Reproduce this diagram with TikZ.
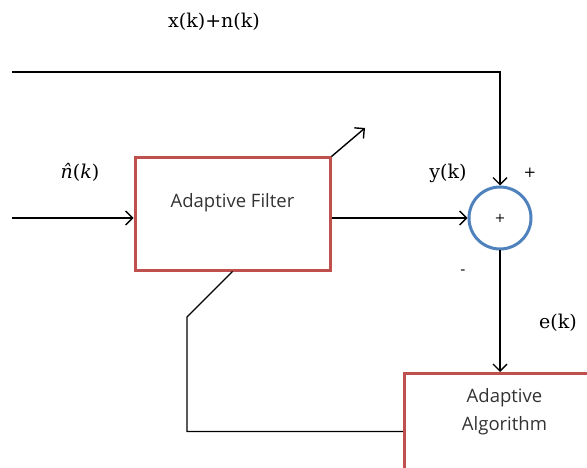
\documentclass[tikz,border=0pt]{standalone}
\usepackage{fontspec}
\setmainfont{DejaVu Serif}
\newfontfamily\boxfont{Open Sans}
\usetikzlibrary{positioning, arrows.meta}
\definecolor{boxred}{HTML}{C0504D}
\definecolor{sumblue}{HTML}{4F81BD}

\begin{document}
\begin{tikzpicture}[x=1pt, y=-1pt,
  block/.style={draw=boxred, line width=3pt, minimum width=195pt, minimum height=112pt},
  sumnode/.style={circle, draw=sumblue, line width=3pt, minimum size=62pt, inner sep=0pt},
  wire/.style={line width=1.4pt},
  arr/.style={wire, -{Straight Barb[length=7pt, width=14pt]}},
  sig/.style={font=\fontsize{19}{22}\selectfont},
  boxtxt/.style={font=\boxfont\fontsize{18.5}{28}\selectfont, text=black!80}]
  \useasboundingbox (0,0) rectangle (587,468);
  \clip (0,0) rectangle (587,468);

  % blocks
  \node[block, boxtxt, text depth=28pt] (filter) at (232.5,214) {Adaptive Filter};
  \node[sumnode, font=\fontsize{13}{14}\selectfont] (sum) at (500,218) {+};
  \node[block, anchor=north west, minimum width=200pt, minimum height=116pt] (algo) at (403,372) {};
  \node[boxtxt, align=center, below=13pt of algo.north] (algotxt) {Adaptive\\Algorithm};

  \coordinate (in) at (12,218);
  \coordinate (top) at (12,72);
  \coordinate (tune) at (365,128);
  \coordinate (bend) at (187,317);

  % signal paths
  \draw[arr] (in) -- (in -| filter.west);
  \draw[arr] (top) -- (sum.north |- top) -- (sum.north);
  \draw[arr] (filter.east |- sum) -- (sum.west);
  \draw[arr] (filter.north east) -- (tune);
  \draw[arr] (sum.south) -- (sum |- algo.north);
  \draw[wire] (filter.south) -- (bend) -- (bend |- algo.west) -- (algo.west);

  % labels
  \node[sig] (xn) at (214,22) {x(k)+n(k)};
  \node[sig] (nhat) at (80,172) {\textit{\^n}(\textit{k})};
  \node[sig] (yk) at (448,173) {y(k)};
  \node[font=\fontsize{15}{16}\selectfont] (plus) at (530,173) {+};
  \node[font=\fontsize{15}{16}\selectfont] (minus) at (463,272) {-};
  \node[sig] (ek) at (558,323) {e(k)};
\end{tikzpicture}
\end{document}
